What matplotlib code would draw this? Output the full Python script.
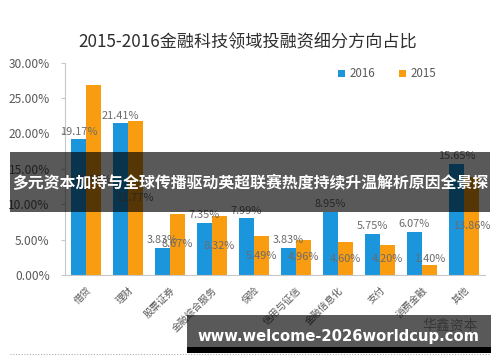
import matplotlib
matplotlib.use("Agg")
import matplotlib.pyplot as plt
from matplotlib.patches import Rectangle
from matplotlib.lines import Line2D
import numpy as np

plt.rcParams['font.family'] = ['Noto Sans CJK SC', 'DejaVu Sans']

title = "2015-2016金融科技领域投融资细分方向占比"
categories = ["借贷", "理财", "股票证券", "金融综合服务", "保险", "信用与征信",
              "金融信息化", "支付", "消费金融", "其他"]
v2016 = [19.17, 21.41, 3.83, 7.35, 7.99, 3.83, 8.95, 5.75, 6.07, 15.65]
v2015 = [26.80, 21.77, 8.67, 8.32, 5.49, 4.96, 4.60, 4.20, 1.40, 13.86]
yticks = [0, 5, 10, 15, 20, 25, 30]
banner1 = "多元资本加持与全球传播驱动英超联赛热度持续升温解析原因全景探"
banner2 = "www.welcome-2026worldcup.com"
watermark = "华鑫资本"

W, H = 500, 362
fig = plt.figure(figsize=(W/100, H/100), dpi=100)
fig.patch.set_facecolor("white")

def fx(px): return px / W
def fy(py): return 1 - py / H

ax = fig.add_axes([fx(65), fy(275), fx(485) - fx(65), fy(62.7) - fy(275)])
blue = "#1b96dc"
orange = "#fa9c10"
x = np.arange(len(categories))
bw = 0.34
off = 0.18
ax.bar(x - off, v2016, bw, color=blue, label="2016", zorder=2)
ax.bar(x + off, v2015, bw, color=orange, label="2015", zorder=2)

lab_col = "#6b6b6b"
for i in range(len(categories)):
    ax.text(x[i] - off, v2016[i] + 0.4, f"{v2016[i]:.2f}%", ha="center", va="bottom",
            fontsize=7.9, color=lab_col, zorder=3)
    ymid = max(v2015[i] / 2, 2.2)
    ax.text(x[i] + off, ymid, f"{v2015[i]:.2f}%", ha="center", va="center",
            fontsize=7.9, color=lab_col, zorder=3)

ax.set_xlim(-0.5, len(categories) - 0.5)
ax.set_ylim(0, 30)
ax.set_yticks(yticks)
ax.set_yticklabels([f"{t:.2f}%" for t in yticks], fontsize=8.6, color="#595959")
ax.set_xticks(x)
ax.set_xticklabels(categories, rotation=45, ha="right", rotation_mode="anchor",
                   fontsize=7, color="#595959")
for s in ["top", "right"]:
    ax.spines[s].set_visible(False)
ax.spines["left"].set_color("#c8c8c8")
ax.spines["bottom"].set_color("#c8c8c8")
ax.tick_params(axis="y", length=3, color="#c8c8c8", pad=8)
ax.tick_params(axis="x", length=0, pad=7)

fig.text(fx(248), fy(42), title, ha="center", va="center", fontsize=12.3, color="#2e2e2e")

leg = ax.legend(loc="upper left", bbox_to_anchor=(fx(328), fy(57)), bbox_transform=fig.transFigure,
                ncol=2, frameon=False, fontsize=8.3, handlelength=0.6, handleheight=0.6,
                handletextpad=0.4, columnspacing=2.0, labelcolor="#595959")

# dotted separator line at bottom
fig.add_artist(Line2D([fx(10), fx(490)], [fy(354), fy(354)], transform=fig.transFigure,
                      color="#b0b0b0", linestyle=(0, (1, 1.5)), linewidth=0.8))

# watermark
fig.text(fx(478), fy(326), watermark, ha="right", va="center", fontsize=10, color="#9a9a9a")

# banner 1
fig.add_artist(Rectangle((fx(10), fy(212)), fx(490) - fx(10), fy(152) - fy(212),
                         transform=fig.transFigure, facecolor="black", alpha=0.65,
                         edgecolor="none", zorder=10))
fig.text(fx(250), fy(183), banner1, ha="center", va="center", fontsize=11.4,
         color="white", fontweight="bold", zorder=11)

# banner 2
fig.add_artist(Rectangle((fx(187), fy(347)), fx(491) - fx(187), fy(315) - fy(347),
                         transform=fig.transFigure, facecolor="black", alpha=0.65,
                         edgecolor="none", zorder=10))
fig.add_artist(Rectangle((fx(187), fy(353)), fx(491) - fx(187), fy(347) - fy(353),
                         transform=fig.transFigure, facecolor="black",
                         edgecolor="none", zorder=10))
fig.text(fx(338), fy(337), banner2, ha="center", va="center", fontsize=10.6,
         color="white", fontweight="bold", family=["DejaVu Sans"], zorder=11)

fig.savefig("out.png", dpi=100)
